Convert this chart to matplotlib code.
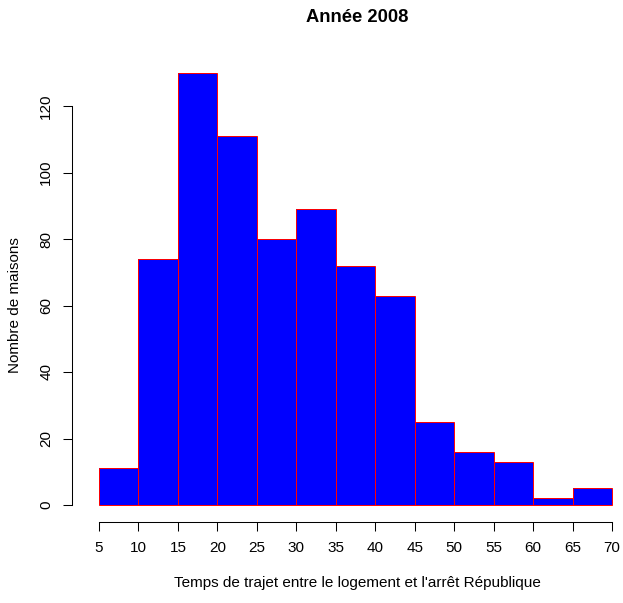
import matplotlib
matplotlib.use("Agg")
import matplotlib.pyplot as plt
import numpy as np

plt.rcParams['font.family'] = ['Liberation Sans', 'DejaVu Sans']

bin_edges = [5, 10, 15, 20, 25, 30, 35, 40, 45, 50, 55, 60, 65, 70]
counts = [11, 74, 130, 111, 80, 89, 72, 63, 25, 16, 13, 2, 5]
x_ticks = [5, 10, 15, 20, 25, 30, 35, 40, 45, 50, 55, 60, 65, 70]
y_ticks = [0, 20, 40, 60, 80, 100, 120]

W, H = 623, 603
fig = plt.figure(figsize=(W / 100, H / 100), dpi=100)
left_px, right_px, top_px, bottom_px = 72, 618, 60, 522
ax = fig.add_axes([left_px / W, (H - bottom_px) / H, (right_px - left_px) / W, (bottom_px - top_px) / H])

ppx = (612 - 99) / 65.0
ppy = (505 - 106) / 120.0
ax.set_xlim(5 - (99 - left_px) / ppx, 5 + (right_px - 99) / ppx)
ax.set_ylim(-(bottom_px - 505) / ppy, (505 - top_px) / ppy)

lefts = bin_edges[:-1]
widths = np.diff(bin_edges)
ax.bar(lefts, counts, width=widths, align='edge', color='#0000ff', edgecolor='none', linewidth=0)
ax.bar(lefts, counts, width=widths, align='edge', fill=False, edgecolor='#ff0000', linewidth=0.7)

for s in ['top', 'right']:
    ax.spines[s].set_visible(False)
ax.spines['left'].set_bounds(0, 120)
ax.spines['bottom'].set_bounds(5, 70)
for s in ['left', 'bottom']:
    ax.spines[s].set_linewidth(0.75)
ax.set_xticks(x_ticks)
ax.set_yticks(y_ticks)
ax.set_yticklabels([str(v) for v in y_ticks], rotation=90, va='center')
ax.tick_params(axis='both', direction='out', length=6.5, width=0.75, labelsize=11, pad=7)

fig.text(357 / W, 1 - 18 / H, 'Année 2008', ha='center', va='center', fontsize=13.2, fontweight='bold')
fig.text(357 / W, 1 - 583 / H, "Temps de trajet entre le logement et l'arrêt République", ha='center', va='center', fontsize=11)
fig.text(15 / W, 1 - 305 / H, 'Nombre de maisons', ha='center', va='center', rotation=90, fontsize=11)

fig.savefig('out.png', dpi=100)
